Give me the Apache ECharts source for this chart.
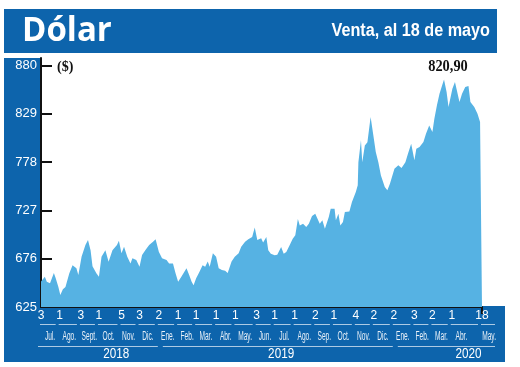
<!DOCTYPE html>
<html><head><meta charset="utf-8">
<script src="https://cdn.jsdelivr.net/npm/echarts@6/dist/echarts.min.js"></script>
<style>html,body{margin:0;padding:0;background:#fff}#c{width:520px;height:367px}</style>
</head><body><div id="c"></div>
<script>
// ---- data ----
const dates = [
'2018-07-03','2018-07-09','2018-07-12','2018-07-17','2018-07-23','2018-07-26','2018-07-30','2018-08-02','2018-08-06','2018-08-10',
'2018-08-16','2018-08-21','2018-08-27','2018-08-30','2018-09-04','2018-09-10','2018-09-14','2018-09-18','2018-09-21','2018-09-27',
'2018-10-01','2018-10-05','2018-10-11','2018-10-16','2018-10-22','2018-10-29','2018-11-01','2018-11-05','2018-11-09','2018-11-14',
'2018-11-19','2018-11-22','2018-11-28','2018-12-03','2018-12-07','2018-12-12','2018-12-18','2018-12-24','2018-12-28','2019-01-02',
'2019-01-07','2019-01-14','2019-01-18','2019-01-24','2019-01-28','2019-02-01','2019-02-06','2019-02-14','2019-02-18','2019-02-22',
'2019-02-25','2019-03-01','2019-03-06','2019-03-11','2019-03-15','2019-03-19','2019-03-22','2019-03-27','2019-04-01','2019-04-05',
'2019-04-10','2019-04-15','2019-04-19','2019-04-25','2019-04-30','2019-05-06','2019-05-10','2019-05-16','2019-05-21','2019-05-27',
'2019-05-31','2019-06-04','2019-06-10','2019-06-13','2019-06-18','2019-06-21','2019-06-25','2019-07-01','2019-07-05','2019-07-11',
'2019-07-15','2019-07-19','2019-07-24','2019-07-29','2019-08-02','2019-08-06','2019-08-09','2019-08-14','2019-08-19','2019-08-23',
'2019-08-28','2019-09-02','2019-09-05','2019-09-09','2019-09-13','2019-09-17','2019-09-23','2019-09-26','2019-10-02','2019-10-04',
'2019-10-08','2019-10-11','2019-10-15','2019-10-18','2019-10-25','2019-10-29','2019-11-04','2019-11-07','2019-11-08','2019-11-12',
'2019-11-14','2019-11-18','2019-11-22','2019-11-27','2019-12-02','2019-12-05','2019-12-09','2019-12-13','2019-12-19','2019-12-23',
'2019-12-27','2020-01-03','2020-01-09','2020-01-14','2020-01-20','2020-01-24','2020-01-29','2020-02-03','2020-02-06','2020-02-11',
'2020-02-17','2020-02-21','2020-02-26','2020-03-02','2020-03-05','2020-03-09','2020-03-13','2020-03-17','2020-03-20','2020-03-24',
'2020-03-27','2020-04-02','2020-04-06','2020-04-09','2020-04-13','2020-04-17','2020-04-22','2020-04-27','2020-04-30','2020-05-06',
'2020-05-11','2020-05-15','2020-05-18'
];
const values = [
652,657,651.7,650,661,655,646,637.7,643.7,646,
660.6,669,665.8,658.8,678,690.5,695.8,685,668,660.6,
657,678,685,672.8,685,690.5,695,681.7,688.7,678,
671,676.4,674.6,667.6,680,685,690.5,694,696.5,683.4,
676.4,674.6,671,671,660.6,651.7,657,666,659,651.7,
648,655.3,662,669,667.6,673,667.6,681.7,678,666,
664,663.4,661,673,678,681.7,688.7,694,696.5,699,
709,695.8,697.5,693,699,685,681.3,679.6,680.3,688.4,
681.3,683,690,697,700.7,718,711,713,709.5,713,
721,723.6,724.6,713,716.5,707.7,720,728.8,728.8,716.5,
723.6,711.2,714.8,725.3,726,735.9,746.4,753.5,778,801,
778,795.7,799,825.6,802.8,788.7,778,764,751.7,748.2,
755.2,771,774.6,771.8,778,786.9,797.5,779.9,792.2,794,
799.2,808,816.8,809.8,823.9,838,850.3,859,865.4,852,
836.2,855.6,862.6,853.8,841.5,850.3,857.3,858.4,841.5,836.2,
829.1,820.4,820.9
];
const yTicks = [625, 676, 727, 778, 829, 880];
const dayTickDates = ['2018-07-03','2018-08-01','2018-09-03','2018-10-01','2018-11-05','2018-12-03','2019-01-02','2019-02-01',
  '2019-03-01','2019-04-01','2019-05-01','2019-06-03','2019-07-01','2019-08-01','2019-09-02','2019-10-01','2019-11-04',
  '2019-12-02','2020-01-02','2020-02-03','2020-03-02','2020-04-01','2020-05-18'];
const monthLabelDates = ['2018-07-17','2018-08-16','2018-09-16','2018-10-16','2018-11-16','2018-12-16','2019-01-16','2019-02-15',
  '2019-03-16','2019-04-16','2019-05-16','2019-06-16','2019-07-16','2019-08-16','2019-09-16','2019-10-16','2019-11-16',
  '2019-12-16','2020-01-16','2020-02-15','2020-03-16','2020-04-16','2020-05-29'];
const monthNames = ['Jul.','Ago.','Sept.','Oct.','Nov.','Dic.','Ene.','Feb.','Mar.','Abr.','May.','Jun.','Jul.','Ago.','Sep.',
  'Oct.','Nov.','Dic.','Ene.','Feb.','Mar.','Abr.','May.'];
const years = ['2018', '2019', '2020'];
const yearLabelDates = ['2018-10-28', '2019-07-11', '2020-04-27'];
const yearSpans = [['2018-07-03','2019-01-02'], ['2019-01-02','2020-01-02'], ['2020-01-02','2020-05-18']];
const titleText = 'Dólar';
const subtitleText = 'Venta, al 18 de mayo';
const unitText = '($)';
const lastValueText = '820,90';

// ---- chart ----
const SANS = '"Liberation Sans",Arial,sans-serif';
const SERIF = '"Liberation Serif","Times New Roman",serif';
const BLUE = '#0d64ac';
const AREA = '#56b2e3';
function ts(s) { const p = s.split('-').map(Number); return Date.UTC(p[0], p[1] - 1, p[2]); }
const T0 = ts(dates[0]);
const day = s => Math.round((ts(s) - T0) / 86400000);          // day offset from first date
const dateOf = d => new Date(T0 + d * 86400000);
const xMax = day(dates[dates.length - 1]);

const chart = echarts.init(document.getElementById('c'));

chart.setOption({
  animation: false,
  backgroundColor: 'transparent',
  grid: { left: 41, right: 38, top: 58, bottom: 60 },
  xAxis: {
    type: 'value', min: 0, max: xMax, position: 'bottom',
    axisLine: { show: true, onZero: false, lineStyle: { color: '#111', width: 2 } },
    axisTick: { show: true, customValues: [xMax], length: 7, lineStyle: { color: '#111', width: 2 } },
    axisLabel: {
      customValues: dayTickDates.map(day), hideOverlap: false,
      formatter: v => String(dateOf(v).getUTCDate()),
      color: '#fff', fontFamily: SANS, fontSize: 12, margin: 3
    },
    splitLine: { show: false }
  },
  yAxis: {
    type: 'value', min: 625, max: 888,
    axisLine: { show: true, onZero: false, lineStyle: { color: '#111', width: 2 } },
    axisTick: { show: true, inside: true, length: 11, customValues: yTicks, lineStyle: { color: '#111', width: 2 } },
    axisLabel: { customValues: yTicks, color: '#fff', fontFamily: SANS, fontSize: 13, margin: 4 },
    splitLine: { show: false }
  },
  series: [{
    type: 'line',
    data: dates.map((d, i) => [day(d), values[i]]),
    showSymbol: false, symbol: 'none', silent: true,
    lineStyle: { width: 0 },
    areaStyle: { color: AREA, opacity: 1 },
    z: 3
  }]
});

const px = d => chart.convertToPixel({ xAxisIndex: 0 }, day(d));
const g = [];
function txt(text, x, y, font, fill, align, sx) {
  g.push({ type: 'text', z: 100, x: x, y: y, scaleX: sx || 1,
    style: { text: text, x: 0, y: 0, fill: fill, font: font, textAlign: align, textVerticalAlign: 'middle' } });
}
g.push({ type: 'rect', z: -100, shape: { x: 4, y: 9, width: 493, height: 44 }, style: { fill: BLUE } });
g.push({ type: 'rect', z: -100, shape: { x: 4, y: 58, width: 37, height: 304 }, style: { fill: BLUE } });
g.push({ type: 'rect', z: -100, shape: { x: 4, y: 306, width: 501, height: 56 }, style: { fill: BLUE } });
txt(titleText, 22, 31, 'bold 34px "Open Sans",sans-serif', '#fff', 'left', 0.97);
txt(subtitleText, 490, 31, 'bold 18px ' + SANS, '#fff', 'right', 0.9);
txt(unitText, 57, 67, 'bold 14px ' + SERIF, '#111', 'left', 1);
txt(lastValueText, 448, 67, 'bold 16px ' + SERIF, '#111', 'center', 0.9);
// month labels
monthLabelDates.forEach((d, i) => txt(monthNames[i], px(d), 337, '12px ' + SANS, '#e8f0f8', 'center', 0.55));
// month underlines
const LINE = 'rgba(225,236,247,0.75)';
for (let i = 0; i < dayTickDates.length; i++) {
  const x0 = px(dayTickDates[i]) - 1;
  const x1 = i < dayTickDates.length - 1 ? px(dayTickDates[i + 1]) - 4 : px(dayTickDates[i]) + 13;
  g.push({ type: 'line', z: 100, shape: { x1: x0, y1: 324.5, x2: x1, y2: 324.5 }, style: { stroke: LINE, lineWidth: 1 } });
}
// years
yearSpans.forEach((s, i) => {
  const x0 = i === 0 ? px(s[0]) - 3 : px(s[0]) + 4;
  const x1 = i === yearSpans.length - 1 ? px(s[1]) + 13 : px(s[1]) - 1;
  g.push({ type: 'line', z: 100, shape: { x1: x0, y1: 346.5, x2: x1, y2: 346.5 }, style: { stroke: LINE, lineWidth: 1 } });
  txt(years[i], px(yearLabelDates[i]), 354, '15px ' + SANS, '#fff', 'center', 0.78);
});
chart.setOption({ graphic: { elements: g } });
</script></body></html>
